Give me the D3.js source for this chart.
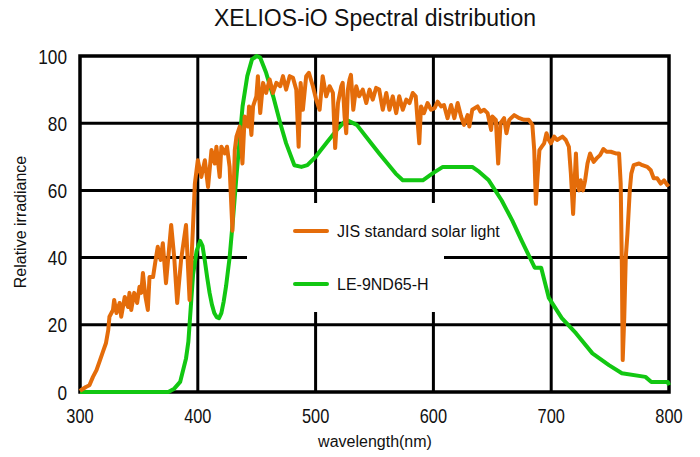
<!DOCTYPE html>
<html>
  <head>
    <title>XELIOS-iO Spectral distribution</title>
    <script src="https://d3js.org/d3.v7.min.js"></script>
    <style>
      html, body {
        margin:0;
        padding:0;
        background:#fff;
      }
      svg text {
        fill:#111;
      }
    </style>
  </head>
  <body>
    <div id="chart"></div>
    <script>
      // JIS standard solar light (wavelength nm, relative irradiance)
      var solarWl = [300,301,305,308,311,314,317,319.5,322,324,325,328,329,331,333.6,335,338,340.7,342,343.5,346,348.5,350.5,352,353.4,355.6,357.6,359,362,363.8,366,368.4,370.3,373,377.4,380,382.5,385.8,390,393,395.8,397.5,400,403,406,408.7,411.6,414.4,415.8,418.6,420,422.9,424.8,427,429.4,431.4,432.8,435.6,437.9,439.8,442.6,443.5,445.5,446.9,449.7,451,453,455.4,458,461,463.8,466.7,470,472.3,475,478,480.8,483.6,485.6,487.3,489.2,492,494.3,497.7,500.5,503.4,506,509,511.9,514.7,516.6,519,521.8,523,524.6,526,527.4,528.8,530,532,534.5,537,540,543,545.8,548.5,551.4,554,557,560,562.7,565.5,568.4,571,574,577,579.7,582.5,585,588,589.5,592,595,598,601,603.6,606.5,609,612,615,617.8,620.6,623.5,626,629,630.5,633,637.5,640,643,646,649,650,653,655,657,660,662,664.4,668.6,673,677,681,684,685.6,687,688.4,690,692,694,696,698,699.7,702.5,705,709.6,712.4,715,716.7,718.6,721,722,723.7,725,727,728.8,730.8,733,736,738.7,741.5,744.3,747,750.6,754.8,757.6,759,760,760.7,762,763.3,764.7,766.7,768,770,774.6,777.4,781.6,784.5,787,790,793,795.8,798.6,800];
      var solarVal = [0.3,0.6,1.5,2,4.5,6.5,9.5,12,14.5,18.5,22.4,24.4,27.4,23.5,26.5,22.4,28.3,25.3,29.5,24.4,29.5,26.5,31.3,29.5,35.4,28.3,24.4,34.2,34.2,38.4,43.2,39.3,44.3,32.4,49.7,40,26.5,39.3,49.7,27.4,48.2,62,69,64,69,61,72,68,73,64,73,71,73,67,48,72,76,79,68,82,79,85,76.5,85,88,94,83,92,89,93,89,92,91,94,90,94,93.5,90,73,92,84,94,95,91,87,84,94,88,91,89,72.6,86,91,92,82,77,90,93,94.4,84,91,88,90,86,90,87,90.5,90,84,89,84,88,83,88,84,87,86,89,88,74,85,83,86,84,84.5,86.4,85,85.4,81.5,85.4,81.5,86,82,79.5,82.4,79,84,85,83.4,84,83,78,82,81,68,80,81.5,77,81,82.4,81.5,81,81,79.5,72,56,64,72,73,74,77,75,74,76,75,76,75,73,65,53,71,63,60,63,60,63,68,71,68.5,69.6,70.5,72.3,71.5,71.5,71,71,62,37,9.5,22,40,47,60,65,67.5,68,67.5,67,66,63.6,63.6,62,63,61.6,62];

      // LE-9ND65-H
      var ledWl = [300,375,380,385,390,392,396,399,402,404,406,408,410,412,414,416,418,420,422,424,427,430,433,436,438,442,446,450,453,458,464,470,475,482,488,493,500,510,518,526,535,545,554,561,568,574,591,599,608,633,639,647,658,667,675,686,691.5,698,709,721,735,749,760,780,785,799,800];
      var ledVal = [0,0,1,3,10,15,35,42,45,43.5,39,34,29.5,26,23.5,22.3,22,23.5,27,31.5,40,52,65,77,85,94,99,100,99.5,95,88,80,74,67.5,67,67.5,70,74.5,78,81,79.5,75,71,68,65,63,63,65,67,67,65.5,63,57,51,45,37,37,28,22,17.5,11.5,8,5.6,4.5,3,3,2];

      var xTicks = [300,400,500,600,700,800];
      var yTicks = [0,20,40,60,80,100];
      var seriesNames = ["JIS standard solar light", "LE-9ND65-H"];
      var seriesColors = ["#e46c0a", "#12c712"];

      (function() {
        var W = 700, H = 457;
        var pl = 80, pr = 669, pt = 56, pb = 392;
        var font = "'Liberation Sans', Arial, sans-serif";

        var svg = d3.select("#chart").append("svg")
          .attr("width", W).attr("height", H);

        var x = d3.scaleLinear().domain([300, 800]).range([pl, pr]);
        var y = d3.scaleLinear().domain([0, 100]).range([pb, pt]);

        // grid
        svg.append("g").selectAll("line")
          .data(xTicks.slice(1, -1)).enter().append("line")
          .attr("x1", d => x(d)).attr("x2", d => x(d))
          .attr("y1", pt).attr("y2", pb)
          .attr("stroke", "#000").attr("stroke-width", 3);
        svg.append("g").selectAll("line")
          .data(yTicks.slice(1, -1)).enter().append("line")
          .attr("x1", pl).attr("x2", pr)
          .attr("y1", d => y(d)).attr("y2", d => y(d))
          .attr("stroke", "#000").attr("stroke-width", 3);

        // legend background cuts the grid
        svg.append("rect")
          .attr("x", 247).attr("y", 203)
          .attr("width", 197).attr("height", 109)
          .attr("fill", "#fff");

        svg.append("rect")
          .attr("x", pl).attr("y", pt)
          .attr("width", pr - pl).attr("height", pb - pt)
          .attr("fill", "none").attr("stroke", "#000").attr("stroke-width", 3.5);

        var line = d3.line().x(d => x(d[0])).y(d => y(d[1]));

        svg.append("path")
          .datum(d3.zip(ledWl, ledVal))
          .attr("d", line)
          .attr("fill", "none").attr("stroke", seriesColors[1])
          .attr("stroke-width", 4).attr("stroke-linejoin", "round");

        svg.append("path")
          .datum(d3.zip(solarWl, solarVal))
          .attr("d", line)
          .attr("fill", "none").attr("stroke", seriesColors[0])
          .attr("stroke-width", 4).attr("stroke-linejoin", "round");

        // tick labels, squeezed to look like a narrow face
        svg.append("g").selectAll("text")
          .data(yTicks).enter().append("text")
          .attr("transform", d => "translate(67," + (y(d) + 7.5) + ") scale(0.82,1)")
          .attr("text-anchor", "end")
          .style("font-family", font).style("font-size", "21px")
          .text(d => d);
        svg.append("g").selectAll("text")
          .data(xTicks).enter().append("text")
          .attr("transform", d => "translate(" + x(d) + ",423) scale(0.82,1)")
          .attr("text-anchor", "middle")
          .style("font-family", font).style("font-size", "20px")
          .text(d => d);

        // titles
        svg.append("text")
          .attr("x", 375).attr("y", 26)
          .attr("text-anchor", "middle")
          .style("font-family", font).style("font-size", "23px")
          .text("XELIOS-iO Spectral distribution");
        svg.append("text")
          .attr("x", 375).attr("y", 447)
          .attr("text-anchor", "middle")
          .style("font-family", font).style("font-size", "16px")
          .text("wavelength(nm)");
        svg.append("text")
          .attr("transform", "translate(26,222) rotate(-90)")
          .attr("text-anchor", "middle")
          .style("font-family", font).style("font-size", "16px")
          .text("Relative irradiance");

        // legend
        var lg = svg.append("g").selectAll("g")
          .data(seriesNames).enter().append("g")
          .attr("transform", (d, i) => "translate(295," + (231 + i * 53) + ")");
        lg.append("line")
          .attr("x1", 0).attr("x2", 32)
          .attr("stroke", (d, i) => seriesColors[i])
          .attr("stroke-width", 4).attr("stroke-linecap", "round");
        lg.append("text")
          .attr("x", 42).attr("y", 6)
          .style("font-family", font).style("font-size", "16px")
          .text(d => d);
      })();
    </script>
  </body>
</html>
